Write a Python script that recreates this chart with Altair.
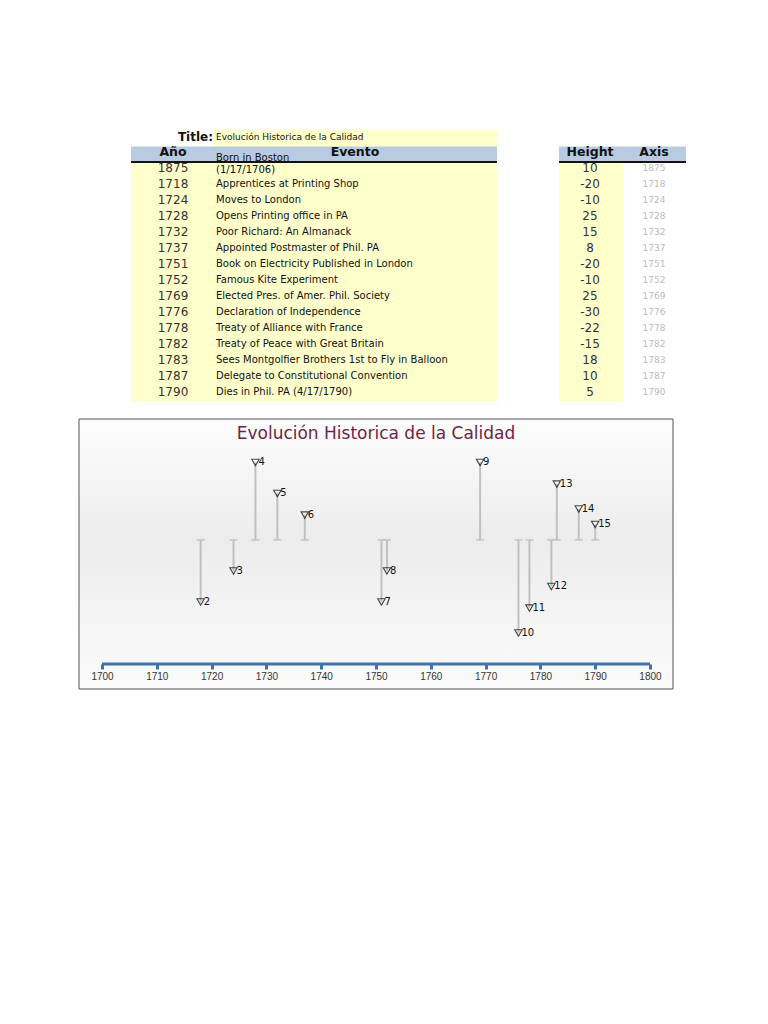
import altair as alt
import pandas as pd

# ---------------- data ----------------
chart_title = "Evolución Historica de la Calidad"
years = [1875, 1718, 1724, 1728, 1732, 1737, 1751, 1752, 1769, 1776, 1778, 1782, 1783, 1787, 1790]
events = [
    "Born in Boston\n(1/17/1706)",
    "Apprentices at Printing Shop",
    "Moves to London",
    "Opens Printing office in PA",
    "Poor Richard: An Almanack",
    "Appointed Postmaster of Phil. PA",
    "Book on Electricity Published in London",
    "Famous Kite Experiment",
    "Elected Pres. of Amer. Phil. Society",
    "Declaration of Independence",
    "Treaty of Alliance with France",
    "Treaty of Peace with Great Britain",
    "Sees Montgolfier Brothers 1st to Fly in Balloon",
    "Delegate to Constitutional Convention",
    "Dies in Phil. PA (4/17/1790)",
]
heights = [10, -20, -10, 25, 15, 8, -20, -10, 25, -30, -22, -15, 18, 10, 5]
axis_years = [1700, 1710, 1720, 1730, 1740, 1750, 1760, 1770, 1780, 1790, 1800]
headers = ["Año", "Evento", "Height", "Axis"]
title_label = "Title:"

n = len(years)
df = pd.DataFrame({
    "year": years,
    "event": events,
    "height": heights,
    "row": list(range(n)),
    "num": [i + 1 for i in range(n)],
})
one = pd.DataFrame({"k": [0]})

FONT = "DejaVu Sans"
YELLOW = "#ffffcc"
BAND = "#b9cbe0"

# ---------------- table panel ----------------
TW, TH = 610, 400
yrow = alt.Scale(domain=[-10, 15], reverse=True, nice=False, zero=False)

def Yr(v):
    return alt.Y(datum=v, type="quantitative", scale=yrow, axis=None)

base_one = alt.Chart(one)
yellow_main = base_one.mark_rect(color=YELLOW).encode(
    x=alt.value(52), x2=alt.value(418), y=Yr(-0.35), y2=alt.datum(n - 0.4))
yellow_h = base_one.mark_rect(color=YELLOW).encode(
    x=alt.value(480), x2=alt.value(544), y=Yr(-0.35), y2=alt.datum(n - 0.4))
title_box = base_one.mark_rect(color=YELLOW).encode(
    x=alt.value(135), x2=alt.value(418), y=Yr(-2.4), y2=alt.datum(-1.35))
band_l = base_one.mark_rect(color=BAND).encode(
    x=alt.value(52), x2=alt.value(418), y=Yr(-1.35), y2=alt.datum(-0.38))
band_r = base_one.mark_rect(color=BAND).encode(
    x=alt.value(480), x2=alt.value(607), y=Yr(-1.35), y2=alt.datum(-0.38))
line_l = base_one.mark_rule(color="#111", strokeWidth=2).encode(
    x=alt.value(52), x2=alt.value(418), y=Yr(-0.38))
line_r = base_one.mark_rule(color="#111", strokeWidth=2).encode(
    x=alt.value(480), x2=alt.value(607), y=Yr(-0.38))

title_lbl = base_one.mark_text(text=title_label, font=FONT, fontSize=12, fontWeight="bold",
                               align="right", baseline="middle", color="#111").encode(
    x=alt.value(134), y=Yr(-1.95))
title_val = base_one.mark_text(text=chart_title, font=FONT, fontSize=9,
                               align="left", baseline="middle", color="#111").encode(
    x=alt.value(137), y=Yr(-1.95))

hdr_x = [94, 276, 511, 575]
hdr_layers = [
    base_one.mark_text(text=h, font=FONT, fontSize=12.5, fontWeight="bold",
                       align="center", baseline="middle", color="#111").encode(
        x=alt.value(xp), y=Yr(-1))
    for h, xp in zip(headers, hdr_x)
]

rows = alt.Chart(df)
YROW = alt.Y("row:Q", scale=yrow, axis=None)
yr_txt = rows.mark_text(font=FONT, fontSize=12, align="center", baseline="middle",
                        color="#333").encode(x=alt.value(94), y=YROW, text="year:N")
ev_txt = rows.transform_filter("indexof(datum.event, '\\n') < 0").mark_text(
    font=FONT, fontSize=10, align="left", baseline="middle", color="#111").encode(
    x=alt.value(137), y=YROW, text="event:N")
ev_multi = rows.transform_filter("indexof(datum.event, '\\n') >= 0").mark_text(
    font=FONT, fontSize=10, align="left", baseline="middle", color="#111",
    lineBreak="\n", lineHeight=12, dy=-10).encode(
    x=alt.value(137), y=YROW, text="event:N")
ht_txt = rows.mark_text(font=FONT, fontSize=12, align="center", baseline="middle",
                        color="#333").encode(x=alt.value(511), y=YROW, text="height:N")
ax_txt = rows.mark_text(font=FONT, fontSize=9, align="center", baseline="middle",
                        color="#bbbbbb").encode(x=alt.value(575), y=YROW, text="year:N")

table = alt.layer(
    yellow_main, yellow_h, title_box, band_l, band_r, line_l, line_r,
    title_lbl, title_val, *hdr_layers, yr_txt, ev_txt, ev_multi, ht_txt, ax_txt,
).properties(width=TW, height=TH)

# ---------------- timeline panel ----------------
W, H = 594, 270
BLUE = "#3f72a8"
STEM = "#c0c0c0"
xs = alt.Scale(domain=[1695.8, 1804.2], nice=False, zero=False)
ys = alt.Scale(domain=[-48.1, 39.0], nice=False, zero=False)

xaxis = alt.Axis(values=axis_years, format="d", domain=False, grid=False, ticks=True,
                 tickColor=BLUE, tickWidth=3, tickSize=5, offset=-25, zindex=2,
                 labelFont="Liberation Sans", labelFontSize=10, labelColor="#333",
                 labelPadding=2, labelFlush=False, title=None)

bg = alt.Chart(one).mark_rect(
    fill=alt.LinearGradient(gradient="linear", x1=0, x2=0, y1=0, y2=1,
                            stops=[alt.GradientStop(offset=0, color="#fdfdfd"),
                                   alt.GradientStop(offset=0.45, color="#ececec"),
                                   alt.GradientStop(offset=1, color="#fbfbfb")]),
    stroke="#555", strokeWidth=1,
).encode(x=alt.value(0), x2=alt.value(W), y=alt.value(0), y2=alt.value(H))

title_txt = alt.Chart(one).mark_text(
    text=chart_title, font=FONT, fontSize=17, color="#6e2446",
    align="center", baseline="alphabetic",
).encode(x=alt.value(W / 2), y=alt.value(20))

axis_line = alt.Chart(one).mark_rule(color=BLUE, strokeWidth=3).encode(
    x=alt.X(datum=axis_years[0], type="quantitative", scale=xs, axis=xaxis),
    x2=alt.datum(axis_years[-1]),
    y=alt.value(245),
)

pts = alt.Chart(df).transform_filter(
    f"datum.year >= {axis_years[0]} && datum.year <= {axis_years[-1]}")
X = alt.X("year:Q", scale=xs, axis=xaxis)
Y = alt.Y("height:Q", scale=ys, axis=None)
stems = pts.mark_rule(color=STEM, strokeWidth=2).encode(
    x=X, y=Y, y2=alt.datum(0))
caps = pts.mark_tick(orient="horizontal", size=8, thickness=2, color=STEM).encode(
    x=X, y=alt.Y(datum=0, type="quantitative", scale=ys, axis=None))
marks = pts.mark_point(shape="triangle-down", size=55, filled=False, color="black",
                       strokeWidth=1.1).encode(x=X, y=Y)
labels = pts.mark_text(align="left", baseline="middle", dx=3, dy=0, font=FONT, fontSize=10,
                       color="#111").encode(x=X, y=Y, text="num:N")

timeline = alt.layer(bg, title_txt, axis_line, stems, caps, marks, labels).properties(
    width=W, height=H,
)

chart = alt.vconcat(table, timeline, spacing=10).properties(
    padding={"left": 70, "top": 0, "right": 5, "bottom": 5}
).configure_view(stroke=None)

chart.save("out.html", embed_options={"renderer": "svg", "actions": False})
